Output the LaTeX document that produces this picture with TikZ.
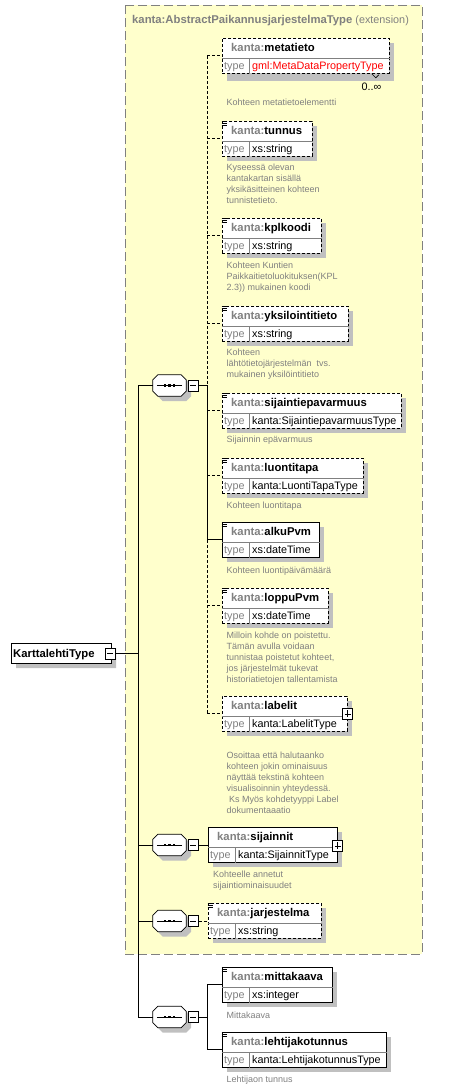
\documentclass[tikz,border=0pt]{standalone}
\usepackage{fontspec}
\setmainfont{Liberation Sans}
\usepackage{tikz}
\usetikzlibrary{positioning,calc,shapes.misc,shadows}
\definecolor{xsdyellow}{HTML}{FFFFCC}
\definecolor{xsdgray}{HTML}{808080}
\definecolor{xsdshadow}{HTML}{C0C0C0}
\definecolor{xsdred}{HTML}{FF0000}

% element box: name, north west corner, width, extra options, element name, type
\newcommand{\xsdelem}[6]{%
  \node[elembox, minimum width=#3, anchor=north west, #4] (#1) at #2 {};
  \draw[divline] ([yshift=-20pt]#1.north west) -- ([yshift=-20pt]#1.north east);
  \draw[divline] ([xshift=27pt,yshift=-20pt]#1.north west) -- ([xshift=27pt]#1.south west);
  \node[elemname] (#1-name) at ([xshift=9pt,yshift=-13.5pt]#1.north west) {\textcolor{xsdgray}{kanta:}#5};
  \node[typelabel] (#1-type) at ([xshift=2pt,yshift=-31pt]#1.north west) {type};
  \node[typevalue] (#1-value) at ([xshift=30pt,yshift=-31pt]#1.north west) {#6};
}
% simple type icon
\newcommand{\xsdicon}[1]{%
  \foreach \dy in {0.5,2.5,4.5}
    \draw[line width=0.7pt] ([xshift=-0.5pt,yshift=-\dy pt]#1.north west) -- ++(5.5pt,0);
}
% octagon outline of a node
\newcommand{\octpath}[1]{([xshift=5pt]#1.north west) -- ([xshift=-5pt]#1.north east) -- ([yshift=-5pt]#1.north east)
  -- ([yshift=5pt]#1.south east) -- ([xshift=-5pt]#1.south east) -- ([xshift=5pt]#1.south west)
  -- ([yshift=5pt]#1.south west) -- ([yshift=-5pt]#1.north west) -- cycle}
% sequence compositor: name, centre
\newcommand{\xsdseq}[2]{%
  \node[seqbox, xshift=5pt, yshift=-5pt] (#1-sh) at #2 {};
  \node[seqbox] (#1) at #2 {};
  \fill[xsdshadow] \octpath{#1-sh};
  \draw[fill=white, line width=0.8pt] \octpath{#1};
  \draw[line width=0.8pt] ([xshift=4pt]#1.west) -- ([xshift=-4pt]#1.east);
  \foreach \dx in {-4.5,0,4.5}
    \fill ([xshift=\dx pt]#1.center) ++(-1.4pt,-1.4pt) rectangle ++(2.8pt,2.8pt);
  \node[minusbox, right=1.5pt of #1] (#1-m) {};
}

\begin{document}
\begin{tikzpicture}[
    x=1pt, y=-1pt,
    xsdshade/.style={general shadow={fill=xsdshadow, shadow xshift=5pt, shadow yshift=-5pt}},
    elembox/.style={rectangle, draw=black, fill=white, line width=0.8pt, minimum height=35pt, inner sep=0pt, xsdshade},
    optional/.style={dash pattern=on 3pt off 2pt},
    divline/.style={draw=xsdgray, line width=0.6pt},
    elemname/.style={font=\fontsize{11.3}{13}\selectfont\bfseries, inner sep=0pt, anchor=base west},
    typelabel/.style={font=\fontsize{10.8}{13}\selectfont, text=xsdgray, inner sep=0pt, anchor=base west},
    typevalue/.style={font=\fontsize{10.8}{13}\selectfont, inner sep=0pt, anchor=base west},
    doc/.style={font=\fontsize{9}{11}\selectfont, text=xsdgray, align=left, inner sep=0pt, anchor=north west},
    seqbox/.style={rectangle, minimum width=33pt, minimum height=21pt, inner sep=0pt},
    rootbox/.style={chamfered rectangle, chamfered rectangle corners={north west,south west}, chamfered rectangle xsep=4pt, chamfered rectangle ysep=4pt, draw, fill=white, line width=0.8pt, minimum width=100pt, minimum height=20pt, inner sep=0pt, xsdshade},
    minusbox/.style={rectangle, draw, fill=white, line width=0.8pt, minimum width=10pt, minimum height=11pt, inner sep=0pt,
      path picture={\draw[line width=0.8pt] ([xshift=2pt]path picture bounding box.west) -- ([xshift=-2pt]path picture bounding box.east);}},
    plusbox/.style={rectangle, draw, fill=white, line width=0.8pt, minimum width=10pt, minimum height=11pt, inner sep=0pt,
      path picture={\draw[line width=0.8pt] ([xshift=2pt]path picture bounding box.west) -- ([xshift=-2pt]path picture bounding box.east);
                    \draw[line width=0.8pt] ([yshift=-2pt]path picture bounding box.north) -- ([yshift=2pt]path picture bounding box.south);}},
    conn/.style={line width=0.9pt},
    extbox/.style={fill=xsdyellow, draw=xsdgray, line width=1pt, dash pattern=on 9pt off 4pt},
]
\useasboundingbox (0,0) rectangle (465,1090);

% Extension area
\draw[extbox] (125,5) rectangle (422,954);
\node[font=\fontsize{10.8}{13}\selectfont, text=xsdgray, inner sep=0pt, anchor=base west] (ext-title) at (132,23)
  {{\fontsize{11.3}{13}\selectfont\bfseries kanta:AbstractPaikannusjarjestelmaType} (extension)};

% Root type
\node[rootbox] (kt) at (61,653) {};
\node[elemname] (kt-name) at (13,657) {KarttalehtiType};
\node[minusbox] (kt-m) at (110,653.5) {};

% Sequences
\xsdseq{s1}{(169.5,385.5)}
\xsdseq{s2}{(169.5,845)}
\xsdseq{s3}{(169.5,921)}
\xsdseq{s4}{(169.5,1017)}

% Elements of the extension
\xsdelem{metatieto}{(222,38)}{167pt}{optional, general shadow={fill=xsdshadow, shadow xshift=5pt, shadow yshift=-8pt}}{metatieto}{\textcolor{xsdred}{gml:MetaDataPropertyType}}
\xsdelem{tunnus}{(222,121)}{90pt}{optional}{tunnus}{xs:string}
\xsdelem{kplkoodi}{(222,218)}{99pt}{optional}{kplkoodi}{xs:string}
\xsdelem{yksilointitieto}{(222,306)}{126pt}{optional}{yksilointitieto}{xs:string}
\xsdelem{sijaintiepavarmuus}{(222,393)}{179pt}{optional}{sijaintiepavarmuus}{kanta:SijaintiepavarmuusType}
\xsdelem{luontitapa}{(222,458)}{141pt}{optional}{luontitapa}{kanta:LuontiTapaType}
\xsdelem{alkuPvm}{(222,522)}{97pt}{}{alkuPvm}{xs:dateTime}
\xsdelem{loppuPvm}{(222,588)}{106pt}{optional}{loppuPvm}{xs:dateTime}
\xsdelem{labelit}{(222,696)}{125pt}{optional}{labelit}{kanta:LabelitType}
\xsdelem{sijainnit}{(208,827)}{129pt}{}{sijainnit}{kanta:SijainnitType}
\xsdelem{jarjestelma}{(208,903)}{113pt}{optional}{jarjestelma}{xs:string}

% Elements of KarttalehtiType
\xsdelem{mittakaava}{(222,967)}{110pt}{}{mittakaava}{xs:integer}
\xsdelem{lehtijakotunnus}{(222,1032)}{164pt}{}{lehtijakotunnus}{kanta:LehtijakotunnusType}

% Icons and expand boxes
\foreach \e in {tunnus,kplkoodi,yksilointitieto,sijaintiepavarmuus,luontitapa,alkuPvm,loppuPvm,jarjestelma,mittakaava,lehtijakotunnus}
  {\xsdicon{\e}}
\node[plusbox] (labelit-p) at (labelit.east) {};
\node[plusbox] (sijainnit-p) at ([yshift=-1pt]sijainnit.east) {};

% Occurrence of metatieto
\draw[line width=0.7pt] ([xshift=-18pt]metatieto.south east) -- ++(4pt,-4pt) -- ++(3pt,3pt);
\node[typevalue, anchor=center] (metatieto-occ) at (371.5,87) {0..∞};

% Documentation
\node[doc] (metatieto-doc) at (226.5,98.5) {Kohteen metatietoelementti};
\node[doc] (tunnus-doc) at (226.5,163.8) {Kyseessä olevan\\kantakartan sisällä\\yksikäsitteinen kohteen\\tunnistetieto.};
\node[doc] (kplkoodi-doc) at (226.5,262) {Kohteen Kuntien\\Paikkaitietoluokituksen(KPL\\2.3)) mukainen koodi};
\node[doc] (yksilointitieto-doc) at (226.5,349) {Kohteen\\lähtötietojärjestelmän\ \ tvs.\\mukainen yksilöintitieto};
\node[doc] (sijaintiepavarmuus-doc) at (226.5,436) {Sijainnin epävarmuus};
\node[doc] (luontitapa-doc) at (226.5,501.5) {Kohteen luontitapa};
\node[doc] (alkuPvm-doc) at (226.5,566.5) {Kohteen luontipäivämäärä};
\node[doc] (loppuPvm-doc) at (226.5,631.5) {Milloin kohde on poistettu.\\Tämän avulla voidaan\\tunnistaa poistetut kohteet,\\jos järjestelmät tukevat\\historiatietojen tallentamista};
\node[doc] (labelit-doc) at (226.5,751.5) {Osoittaa että halutaanko\\kohteen jokin ominaisuus\\näyttää tekstinä kohteen\\visualisoinnin yhteydessä.\\\hspace*{2.5pt}Ks Myös kohdetyyppi Label\\dokumentaaatio};
\node[doc] (sijainnit-doc) at (213,871) {Kohteelle annetut\\sijaintiominaisuudet};
\node[doc] (mittakaava-doc) at (226.5,1011.5) {Mittakaava};
\node[doc] (lehtijakotunnus-doc) at (226.5,1076) {Lehtijaon tunnus};

% Trunk from KarttalehtiType
\coordinate (trunk) at (138,653);
\coordinate (branch) at (207,653);
\draw[conn] (kt-m.east) -- (kt-m.east -| trunk);
\draw[conn] (s1.west -| trunk) -- (s4.west -| trunk);
\foreach \s in {s1,s2,s3,s4}
  \draw[conn] (\s.west -| trunk) -- (\s.west);

% First sequence
\draw[conn, optional] (metatieto.west -| branch) -- (s1-m.east -| branch);
\draw[conn] (s1-m.east) -- (s1-m.east -| branch) -- (alkuPvm.west -| branch);
\draw[conn, optional] (alkuPvm.west -| branch) -- (labelit.west -| branch);
\foreach \e in {metatieto,tunnus,kplkoodi,yksilointitieto,sijaintiepavarmuus,luontitapa,loppuPvm,labelit}
  \draw[conn, optional] (\e.west -| branch) -- (\e.west);
\draw[conn] (alkuPvm.west -| branch) -- (alkuPvm.west);

% Second and third sequence
\draw[conn] (s2-m.east) -- (s2-m.east -| sijainnit.west);
\draw[conn, optional] (s3-m.east) -- (s3-m.east -| jarjestelma.west);

% Fourth sequence
\draw[conn] (s4-m.east) -- (s4-m.east -| branch);
\draw[conn] (mittakaava.west -| branch) -- (lehtijakotunnus.west -| branch);
\draw[conn] (mittakaava.west -| branch) -- (mittakaava.west);
\draw[conn] (lehtijakotunnus.west -| branch) -- (lehtijakotunnus.west);

\end{tikzpicture}
\end{document}
